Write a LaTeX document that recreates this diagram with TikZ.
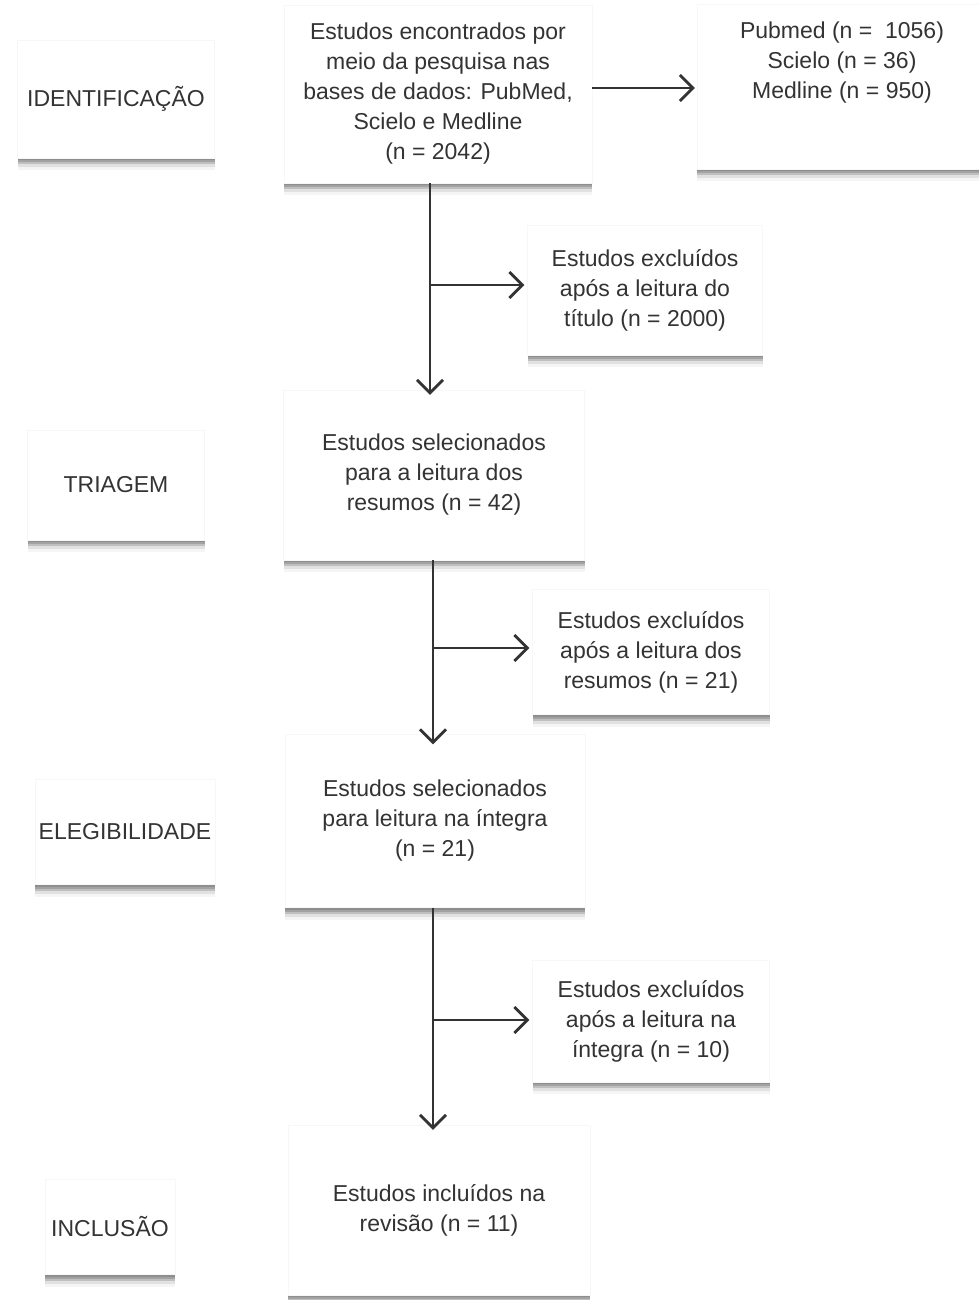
\documentclass[tikz,border=0pt]{standalone}
\usepackage{fontspec}
\setmainfont{Liberation Sans}
\usetikzlibrary{arrows.meta,shadows}
\definecolor{ink}{HTML}{333333}
\begin{document}
\begin{tikzpicture}[x=1pt,y=-1pt,
  box/.style={draw=black!3,fill=white,align=center,text=ink,inner sep=0pt,
    font=\fontsize{23}{30}\selectfont,
    drop shadow={shadow xshift=0pt,shadow yshift=-2pt,fill=black,opacity=0.12},
    drop shadow={shadow xshift=0pt,shadow yshift=-4pt,fill=black,opacity=0.15},
    drop shadow={shadow xshift=0pt,shadow yshift=-6pt,fill=black,opacity=0.15},
    drop shadow={shadow xshift=0pt,shadow yshift=-9pt,fill=black,opacity=0.08},
    drop shadow={shadow xshift=0pt,shadow yshift=-12pt,fill=black,opacity=0.04}},
  lab/.style={box},
  arr/.style={draw=ink,line width=2.8pt,-{Straight Barb[length=13pt,width=26pt,line width=2.8pt]}}]
\useasboundingbox[fill=white] (0,0) rectangle (979,1300);
% labels
\node[lab,minimum width=197,minimum height=118] (l1) at (116,99) {IDENTIFICAÇÃO};
\node[lab,minimum width=177,minimum height=110] (l2) at (116,485) {TRIAGEM};
\node[lab,minimum width=180,minimum height=105] (l3) at (125,832) {ELEGIBILIDADE};
\node[lab,minimum width=130,minimum height=95] (l4) at (110,1227) {INCLUSÃO};
% main boxes
\node[box,minimum width=308,minimum height=178] (b1) at (438,94)
  {Estudos encontrados por\\meio da pesquisa nas\\bases de dados: PubMed,\\Scielo e Medline\\(n = 2042)};
\node[box,minimum width=290,minimum height=165] (r1) at (842,87)
  {Pubmed (n =\ \ 1056)\\Scielo (n = 36)\\Medline (n = 950)\\[24pt]};
\node[box,minimum width=301,minimum height=170] (b2) at (434,475)
  {Estudos selecionados\\para a leitura dos\\resumos (n = 42)};
\node[box,minimum width=300,minimum height=173] (b3) at (435,821)
  {Estudos selecionados\\para leitura na íntegra\\(n = 21)};
\node[box,minimum width=302,minimum height=170] (b4) at (439,1210)
  {Estudos incluídos na\\revisão (n = 11)};
% excluded boxes
\node[box,minimum width=235,minimum height=130] (e1) at (645,290)
  {Estudos excluídos\\após a leitura do\\título (n = 2000)};
\node[box,minimum width=237,minimum height=125] (e2) at (651,652)
  {Estudos excluídos\\após a leitura dos\\resumos (n = 21)};
\node[box,minimum width=237,minimum height=122] (e3) at (651,1021)
  {Estudos excluídos\\após a leitura na\\íntegra (n = 10)};
% connectors
\coordinate (v1) at (430,0);
\coordinate (v2) at (433,0);
\draw[arr] (b1.east |- 0,88) -- ([xshift=-2pt]r1.west |- 0,88);
\draw[arr] (b1.south -| v1) -- ([yshift=-5pt]b2.north -| v1);
\draw[arr] (v1 |- 0,285) -- ([xshift=-3pt]e1.west |- 0,285);
\draw[arr] (b2.south -| v2) -- ([yshift=-10pt]b3.north -| v2);
\draw[arr] (v2 |- 0,648) -- ([xshift=-3pt]e2.west |- 0,648);
\draw[arr] (b3.south -| v2) -- ([yshift=-5pt]b4.north -| v2);
\draw[arr] (v2 |- 0,1020) -- ([xshift=-3pt]e3.west |- 0,1020);
\end{tikzpicture}
\end{document}
